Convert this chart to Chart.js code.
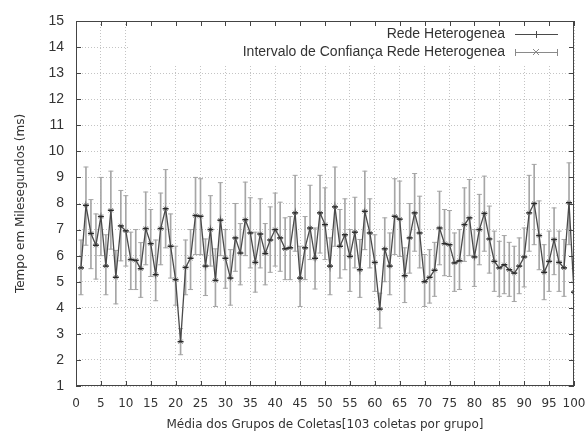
<!DOCTYPE html>
<html>
<head>
<meta charset="utf-8">
<script src="https://cdn.jsdelivr.net/npm/chart.js@4.4.1/dist/chart.umd.min.js"></script>
<style>
  html, body { margin: 0; padding: 0; background: #fff; }
  #wrap { width: 587px; height: 438px; }
</style>
</head>
<body>
<div id="wrap"><canvas id="chart" width="587" height="438"></canvas></div>
<script>
// grupos de coletas (eixo x)
const groups = [
  1, 2, 3, 4, 5, 6, 7, 8, 9, 10, 11, 12, 13, 14, 15, 16, 17, 18, 19, 20,
  21, 22, 23, 24, 25, 26, 27, 28, 29, 30, 31, 32, 33, 34, 35, 36, 37, 38, 39, 40,
  41, 42, 43, 44, 45, 46, 47, 48, 49, 50, 51, 52, 53, 54, 55, 56, 57, 58, 59, 60,
  61, 62, 63, 64, 65, 66, 67, 68, 69, 70, 71, 72, 73, 74, 75, 76, 77, 78, 79, 80,
  81, 82, 83, 84, 85, 86, 87, 88, 89, 90, 91, 92, 93, 94, 95, 96, 97, 98, 99, 100
];

// tempo medio (ms)
const meanTime = [
  5.53, 7.93, 6.85, 6.40, 7.50, 5.60, 7.74, 5.17, 7.14, 6.95,
  5.85, 5.82, 5.50, 7.04, 6.46, 5.27, 7.04, 7.80, 6.36, 5.08,
  2.70, 5.55, 5.90, 7.54, 7.51, 5.60, 7.00, 5.05, 7.36, 5.90,
  5.14, 6.68, 6.10, 7.38, 6.87, 5.74, 6.83, 6.08, 6.60, 7.00,
  6.68, 6.26, 6.30, 7.64, 5.14, 6.30, 7.06, 5.90, 7.64, 7.19,
  5.60, 7.87, 6.36, 6.80, 5.97, 6.90, 5.46, 7.70, 6.87, 5.74,
  3.95, 6.26, 5.60, 7.51, 7.40, 5.23, 6.68, 7.64, 6.87, 5.00,
  5.17, 5.44, 7.06, 6.46, 6.42, 5.72, 5.80, 7.19, 7.45, 5.95,
  7.00, 7.62, 6.64, 5.78, 5.53, 5.65, 5.46, 5.33, 5.60, 5.95,
  7.64, 8.00, 6.77, 5.36, 5.78, 6.62, 5.74, 5.53, 8.03, 4.60
];

// intervalo de confianca: limite inferior
const lowerBound = [
  4.50, 6.40, 5.50, 5.10, 6.00, 4.50, 6.25, 4.15, 5.80, 5.60,
  4.70, 4.70, 4.40, 5.65, 5.20, 4.27, 5.65, 6.30, 5.14, 4.10,
  2.20, 4.50, 4.70, 6.04, 6.04, 4.47, 5.60, 4.05, 6.00, 4.75,
  4.10, 5.40, 4.88, 6.00, 5.53, 4.60, 5.53, 4.88, 5.36, 5.60,
  5.40, 5.08, 5.08, 6.17, 4.05, 5.08, 5.85, 4.72, 6.10, 5.85,
  4.50, 6.36, 5.14, 5.46, 4.63, 5.53, 4.40, 6.23, 5.53, 4.63,
  3.22, 5.00, 4.50, 6.04, 5.97, 4.20, 5.33, 6.17, 5.53, 4.05,
  4.18, 4.44, 5.65, 5.23, 5.20, 4.63, 4.70, 5.78, 6.00, 4.82,
  5.65, 6.17, 5.33, 4.63, 4.44, 4.54, 4.44, 4.24, 4.54, 4.80,
  6.17, 6.42, 5.46, 4.31, 4.63, 5.27, 4.63, 4.44, 6.42, 3.70
];

// intervalo de confianca: limite superior
const upperBound = [
  6.60, 9.40, 8.15, 7.60, 9.00, 6.80, 9.24, 6.20, 8.50, 8.30,
  6.90, 7.00, 6.50, 8.44, 7.77, 6.60, 8.40, 9.30, 7.60, 6.36,
  3.20, 6.60, 7.00, 9.00, 8.95, 6.64, 8.30, 6.26, 8.80, 7.00,
  6.23, 8.00, 7.23, 8.82, 8.22, 6.90, 8.18, 7.23, 7.87, 8.40,
  8.05, 7.45, 7.50, 9.08, 6.36, 7.50, 8.70, 7.06, 9.08, 8.60,
  6.68, 9.40, 7.77, 8.18, 7.00, 8.24, 6.62, 9.24, 8.18, 6.80,
  4.56, 7.45, 6.87, 8.95, 8.86, 6.30, 8.00, 9.15, 8.28, 6.04,
  6.23, 6.51, 8.47, 7.77, 7.73, 6.87, 7.00, 8.60, 8.92, 7.00,
  8.35, 9.05, 7.90, 6.94, 6.55, 6.77, 6.51, 6.36, 6.68, 7.06,
  9.08, 9.50, 8.10, 6.42, 6.94, 7.83, 6.94, 6.62, 9.56, 5.50
];

const xTickValues = [0, 5, 10, 15, 20, 25, 30, 35, 40, 45, 50, 55, 60, 65, 70, 75, 80, 85, 90, 95, 100];
const yTickValues = [1, 2, 3, 4, 5, 6, 7, 8, 9, 10, 11, 12, 13, 14, 15];

const seriesLabels = ["Rede Heterogenea", "Intervalo de Confiança Rede Heterogenea"];
const xTitle = "Média dos Grupos de Coletas[103 coletas por grupo]";
const yTitle = "Tempo em Milesegundos (ms)";

const LINE_COLOR = "#4a4a4a";
const BAR_COLOR = "#a6a6a6";
const TEXT_COLOR = "#333";
const GRID_COLOR = "#c4c4c4";

const toPoints = (values) => groups.map((g, i) => ({ x: g, y: values[i] }));

// moldura estilo gnuplot, marcas internas e legenda
const gnuplotFrame = {
  id: "gnuplotFrame",
  beforeDatasetsDraw(chart) {
    const { ctx, chartArea } = chart;
    ctx.save();
    ctx.fillStyle = "#fff";
    ctx.fillRect(130, chartArea.top + 1, chartArea.right - 131, 42);
    ctx.restore();
  },
  afterDatasetsDraw(chart) {
    const { ctx, chartArea, scales } = chart;
    const { left, right, top, bottom } = chartArea;
    ctx.save();
    ctx.strokeStyle = "#444";
    ctx.lineWidth = 1;
    ctx.strokeRect(left + 0.5, top + 0.5, right - left - 1, bottom - top - 1);

    ctx.beginPath();
    scales.x.ticks.forEach((t) => {
      const px = Math.round(scales.x.getPixelForValue(t.value)) + 0.5;
      ctx.moveTo(px, bottom); ctx.lineTo(px, bottom - 5);
      ctx.moveTo(px, top); ctx.lineTo(px, top + 5);
    });
    scales.y.ticks.forEach((t) => {
      const py = Math.round(scales.y.getPixelForValue(t.value)) + 0.5;
      ctx.moveTo(left, py); ctx.lineTo(left + 5, py);
      ctx.moveTo(right, py); ctx.lineTo(right - 5, py);
    });
    ctx.stroke();

    // legenda
    ctx.font = "14px 'Liberation Sans', Arial, sans-serif";
    ctx.fillStyle = TEXT_COLOR;
    ctx.textAlign = "right";
    ctx.textBaseline = "middle";
    const rows = [34, 52];
    const sx0 = 515, sx1 = 558, sm = 536;
    ctx.fillText(seriesLabels[0], 505, rows[0]);
    ctx.fillText(seriesLabels[1], 505, rows[1]);

    ctx.strokeStyle = LINE_COLOR;
    ctx.beginPath();
    ctx.moveTo(sx0, rows[0] + 0.5); ctx.lineTo(sx1, rows[0] + 0.5);
    ctx.moveTo(sm + 0.5, rows[0] - 3); ctx.lineTo(sm + 0.5, rows[0] + 4);
    ctx.stroke();

    ctx.strokeStyle = "#8a8a8a";
    ctx.beginPath();
    ctx.moveTo(sx0, rows[1] + 0.5); ctx.lineTo(sx1, rows[1] + 0.5);
    ctx.moveTo(sx0 + 0.5, rows[1] - 3); ctx.lineTo(sx0 + 0.5, rows[1] + 4);
    ctx.moveTo(sx1 - 0.5, rows[1] - 3); ctx.lineTo(sx1 - 0.5, rows[1] + 4);
    ctx.moveTo(sm - 3, rows[1] - 3); ctx.lineTo(sm + 3, rows[1] + 3);
    ctx.moveTo(sm - 3, rows[1] + 3); ctx.lineTo(sm + 3, rows[1] - 3);
    ctx.stroke();
    ctx.restore();
  },
};

const useTicks = (values) => (scale) => {
  scale.ticks = values.map((v) => ({ value: v }));
};

new Chart(document.getElementById("chart"), {
  data: {
    datasets: [
      {
        type: "bar",
        label: seriesLabels[1],
        data: groups.map((g, i) => ({ x: g, y: [lowerBound[i], upperBound[i]] })),
        backgroundColor: BAR_COLOR,
        borderWidth: 0,
        barThickness: 1,
        order: 4,
      },
      {
        type: "line",
        label: "lower caps",
        data: toPoints(lowerBound),
        showLine: false,
        pointStyle: "line",
        pointRadius: 2.5,
        pointBorderColor: BAR_COLOR,
        pointBorderWidth: 1,
        order: 3,
      },
      {
        type: "line",
        label: "upper caps",
        data: toPoints(upperBound),
        showLine: false,
        pointStyle: "line",
        pointRadius: 2.5,
        pointBorderColor: BAR_COLOR,
        pointBorderWidth: 1,
        order: 3,
      },
      {
        type: "line",
        label: "interval centre",
        data: toPoints(meanTime),
        showLine: false,
        pointStyle: "crossRot",
        pointRadius: 3,
        pointBorderColor: "#808080",
        pointBorderWidth: 1,
        order: 2,
      },
      {
        type: "line",
        label: seriesLabels[0],
        data: toPoints(meanTime),
        borderColor: LINE_COLOR,
        borderWidth: 1.3,
        tension: 0,
        pointStyle: "line",
        pointRadius: 3,
        pointBorderColor: "#2a2a2a",
        pointBorderWidth: 1.5,
        order: 1,
      },
    ],
  },
  options: {
    responsive: false,
    animation: false,
    layout: { padding: { top: 21, right: 13, left: 0, bottom: 0 } },
    plugins: { legend: { display: false }, tooltip: { enabled: false } },
    scales: {
      x: {
        type: "linear",
        min: 0,
        max: 100,
        offset: false,
        afterBuildTicks: useTicks(xTickValues),
        ticks: {
          padding: 11,
          color: TEXT_COLOR,
          font: { family: "'DejaVu Sans', sans-serif", size: 12 },
          maxRotation: 0,
          autoSkip: false,
          callback: (v) => String(v),
        },
        grid: { color: GRID_COLOR, drawTicks: false, lineWidth: 1, offset: false },
        border: { display: false, dash: [1, 2] },
        title: {
          display: true,
          text: xTitle,
          color: TEXT_COLOR,
          font: { family: "'DejaVu Sans', sans-serif", size: 12 },
          padding: { top: 0, bottom: 6 },
        },
        afterFit(scale) {
          scale.height = 52;
          scale.paddingLeft = 0;
          scale.paddingRight = 0;
        },
      },
      y: {
        type: "linear",
        min: 1,
        max: 15,
        afterBuildTicks: useTicks(yTickValues),
        ticks: {
          padding: 12,
          color: TEXT_COLOR,
          font: { family: "'Liberation Sans', Arial, sans-serif", size: 14 },
          callback: (v) => String(v),
        },
        grid: { color: GRID_COLOR, drawTicks: false, lineWidth: 1, offset: false },
        border: { display: false, dash: [1, 2] },
        title: {
          display: true,
          text: yTitle,
          color: TEXT_COLOR,
          font: { family: "'DejaVu Sans', sans-serif", size: 12 },
          padding: { top: 14, bottom: 0 },
        },
        afterFit(scale) {
          scale.width = 76;
          scale.paddingTop = 0;
          scale.paddingBottom = 0;
        },
      },
    },
  },
  plugins: [gnuplotFrame],
});
</script>
</body>
</html>
